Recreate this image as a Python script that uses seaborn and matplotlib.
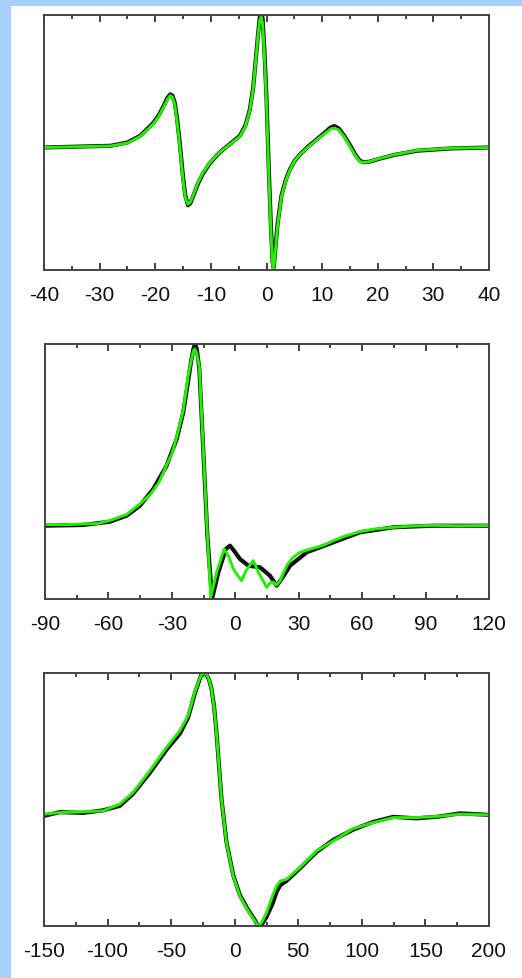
import matplotlib
matplotlib.use("Agg")
import matplotlib.pyplot as plt
from matplotlib.patches import Rectangle
from matplotlib.ticker import MultipleLocator
import pandas as pd
import seaborn as sns

# panel 1 (-40..40)
p1_x = [-40, -28, -25, -22.7, -20.3, -19.3, -18.5, -17.8, -17.3, -16.9, -16.5, -16.1, -15.6, -15.0,
        -14.6, -14.1, -13.7, -13.2, -12.3, -11.4, -10.2, -9.0, -7.8, -6.6, -4.8, -3.8, -3.0, -2.4,
        -1.9, -1.5, -1.2, -0.95, -0.7, -0.4, 0, 0.4, 0.8, 1.1, 1.3, 1.6, 2.0, 2.7, 3.5, 4.2, 5.0,
        6.0, 7.5, 9.0, 10.5, 11.5, 12.2, 13.0, 14.0, 15.0, 16.0, 16.8, 17.5, 18.5, 20.0, 22.8,
        27, 33, 40]
p1_black = [0, 1.7, 5, 11.7, 25, 33, 41.7, 50, 53.3, 52, 45, 30, 5, -30,
            -48, -58, -56, -49, -36, -26, -16, -8.3, -2, 3.3, 11.7, 22, 38, 60,
            90, 115, 131, 138, 129, 100, 50, -20, -80, -115, -121, -101, -76, -48, -32, -22, -14,
            -7, 1, 8, 15, 20, 21.5, 19, 11.5, 2.5, -7.5, -13.5, -14.8, -14.3, -11.8, -7.7,
            -3.3, -1, 0]
p1_green = [0, 1.5, 4.5, 11, 24, 32, 40.5, 48.5, 52, 50.5, 43, 27, 2, -33,
            -50, -57, -55, -48, -35, -25, -15.5, -8, -2, 3, 11, 21, 37, 59,
            89, 114, 128, 131, 124, 96, 45, -25, -85, -118, -123, -103, -78, -49, -33, -22.5, -14,
            -7, 0.5, 7.5, 14, 18.5, 19.5, 17.5, 10.5, 1, -8.5, -14.3, -15, -14.2, -11.5, -7.5,
            -3, -0.8, 0]

# panel 2 (-90..120)
p2_black_x = [-90, -72, -59.3, -51.4, -45.1, -38.8, -32.5, -27.7, -24.6, -22.2, -20.8, -19.8, -19.1,
              -18.2, -17.0, -15.1, -13.2, -11.0, -8.0, -4.5, -2.5, -0.5, 2.2, 6.2, 11.7, 16.4, 19.6,
              22.5, 25.9, 33.8, 46.4, 59, 74.8, 93.7, 120]
p2_black_y = [-0.7, 0, 3.3, 9.3, 19.3, 36, 59.3, 86, 112.7, 145.3, 165, 176, 181,
              176, 156, 72.7, -10.7, -74, -47.3, -24, -20.7, -26, -34, -40.7, -42.3, -50.7, -60.7,
              -52, -40.7, -27.3, -17.3, -7.3, -2.3, -0.7, -0.7]
p2_green_x = [-90, -80, -72, -65, -59.3, -51.4, -45.1, -40, -36, -32.5, -30, -27.7, -24.6, -22.2,
              -20.8, -19.8, -19.1, -18.2, -17.0, -15.1, -13.2, -11.6, -8.8, -5.3, -3, -0.9, 1, 3.0,
              5, 6.2, 8.5, 9.5, 10.9, 13, 14.8, 16.5, 18.0, 19.5, 21.1, 24.3, 27, 30.6, 34, 38.5,
              42, 46.4, 52, 59, 66, 74.8, 84, 93.7, 105, 120]
p2_green_y = [0.5, 0.3, 1, 1.5, 4.5, 10.5, 21, 31, 43, 60, 71, 88, 115, 150,
              165, 174, 176, 171, 158, 74, -10, -72, -47, -24, -32, -44, -50, -55.7,
              -46, -42.3, -35.7, -40, -47.3, -55, -62.3, -58, -57.3, -60, -56, -40.7, -33, -27.3, -25, -22.3,
              -20, -15.7, -11, -6.7, -4, -2.3, -1, -0.3, -0.8, -0.5]

# panel 3 (-150..200)
p3_x = [-150, -137.7, -119.3, -103.6, -90.4, -80, -66.8, -53.7, -43.2, -36.7, -31.4, -28.5, -26.2,
        -24, -22.2, -20.2, -18.3, -16.3, -14.4, -10.4, -6.5, -1.2, 4.0, 10.6, 15.8, 17.5, 19.2,
        21, 25.0, 30, 32.9, 36, 40.7, 51.2, 64.4, 77.5, 93.2, 109, 124.7, 143, 160, 177.2, 200]
p3_green = [0.7, 2.3, 3, 4, 10.7, 22.3, 44, 67.3, 84, 99, 122.3, 133, 139.7,
            141.7, 140.7, 135, 125.7, 108, 82.3, 15.7, -27.7, -61, -81, -96, -106, -109, -111,
            -108, -97.7, -80, -71, -66, -64.3, -52.7, -36, -26, -13.7, -7.7, -2.7, -2.7, -1.5, 0.7, 0]
p3_black = [-1, 2.7, 2, 4.5, 9, 21, 42, 65, 81, 97, 121, 132, 140,
            142, 140, 135, 126, 109, 83, 16, -27, -60, -80, -95, -105, -109, -111,
            -110, -102, -88, -77, -70, -66, -53.5, -37, -25, -14.7, -7, -2, -3.5, -1.8, 1.5, 0]

sns.set_style("white")
plt.rcParams["font.family"] = ["Liberation Sans", "DejaVu Sans"]
plt.rcParams["axes.unicode_minus"] = False

fig = plt.figure(figsize=(5.22, 9.79), dpi=100)
fig.patch.set_facecolor("#a6cffc")
fig.patches.append(Rectangle((11 / 522, 0), 1, 1 - 7 / 979, transform=fig.transFigure,
                             facecolor="white", edgecolor="none", zorder=-5))

W, H = 522, 979
panels = [
    dict(box=(44, 16, 489, 271), black=(p1_x, p1_black), green=(p1_x, p1_green),
         xlim=(-40, 40), ylim=(-123, 133), major=10, minor=5),
    dict(box=(45, 345, 489, 600), black=(p2_black_x, p2_black_y), green=(p2_green_x, p2_green_y),
         xlim=(-90, 120), ylim=(-74, 181), major=30, minor=15),
    dict(box=(44, 674, 489, 927), black=(p3_x, p3_black), green=(p3_x, p3_green),
         xlim=(-150, 200), ylim=(-111, 141.7), major=50, minor=25),
]

for p in panels:
    l, t, r, b = p["box"]
    ax = fig.add_axes([l / W, 1 - b / H, (r - l) / W, (b - t) / H])
    ax.set_facecolor("white")
    dk = pd.DataFrame({"x": p["black"][0], "y": p["black"][1]})
    dg = pd.DataFrame({"x": p["green"][0], "y": p["green"][1]})
    sns.lineplot(data=dk, x="x", y="y", ax=ax, color="#111111", linewidth=3.0, sort=False)
    sns.lineplot(data=dg, x="x", y="y", ax=ax, color="#22f000", linewidth=2.1, sort=False)
    ax.set_xlim(*p["xlim"])
    ax.set_ylim(*p["ylim"])
    ax.set_xlabel("")
    ax.set_ylabel("")
    ax.set_yticks([])
    ax.xaxis.set_major_locator(MultipleLocator(p["major"]))
    ax.xaxis.set_minor_locator(MultipleLocator(p["minor"]))
    ax.tick_params(axis="x", which="both", direction="in", top=True, bottom=True,
                   colors="#333333", labelcolor="#111111", width=1.3)
    ax.tick_params(axis="x", which="major", length=5, pad=11, labelsize=15)
    ax.tick_params(axis="x", which="minor", length=3)
    for s in ax.spines.values():
        s.set_color("#444444")
        s.set_linewidth(1.4)
        s.set_visible(True)

fig.savefig("out.png", dpi=100, facecolor=fig.get_facecolor())
